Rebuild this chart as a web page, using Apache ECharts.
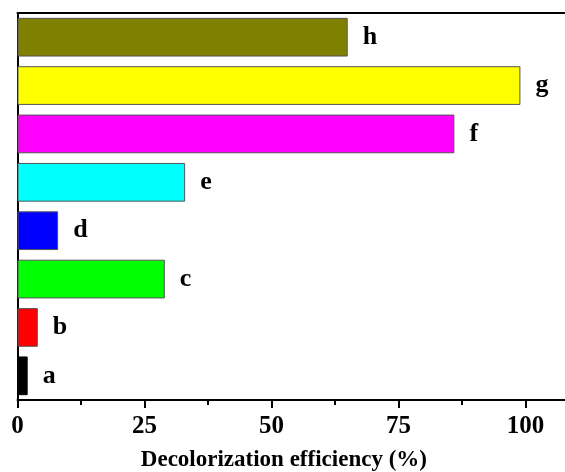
<!DOCTYPE html>
<html>
<head>
<meta charset="utf-8">
<script src="https://cdn.jsdelivr.net/npm/echarts@6/dist/echarts.min.js"></script>
<style>
  html, body { margin: 0; padding: 0; background: #fff; }
  #chart { width: 565px; height: 472px; }
</style>
</head>
<body>
<div id="chart"></div>
<script>
// Samples, bottom to top
const categories = ['a', 'b', 'c', 'd', 'e', 'f', 'g', 'h'];
// Decolorization efficiency (%) per sample
const efficiency = [2, 4, 29, 8, 33, 86, 99, 65];
const barColors = ['#000000', '#ff0000', '#00ff00', '#0000ff', '#00ffff', '#ff00ff', '#ffff00', '#808000'];
const xTicks = [0, 25, 50, 75, 100];

const serif = '"Liberation Serif", "Times New Roman", serif';
const chart = echarts.init(document.getElementById('chart'));

chart.setOption({
  animation: false,
  backgroundColor: '#ffffff',
  grid: {
    left: 17.5, top: 13, width: 110 * 5.08, height: 387,
    containLabel: false, outerBoundsMode: 'none'
  },
  xAxis: [{
    type: 'value',
    min: 0,
    max: 110,
    interval: 25,
    position: 'bottom',
    axisLine: { show: true, lineStyle: { color: '#000', width: 2 } },
    axisTick: { show: true, length: 8, lineStyle: { color: '#000', width: 2 } },
    minorTick: { show: true, splitNumber: 2, length: 5, lineStyle: { color: '#000', width: 2 } },
    splitLine: { show: false },
    axisLabel: {
      margin: 14,
      fontFamily: serif, fontWeight: 'bold', fontSize: 25, color: '#000',
      formatter: v => (xTicks.indexOf(v) >= 0 ? String(v) : '')
    },
    name: 'Decolorization efficiency (%)',
    nameLocation: 'middle',
    nameGap: 49,
    nameTextStyle: {
      fontFamily: serif, fontWeight: 'bold', fontSize: 23, color: '#000',
      padding: [0, 26, 0, 0]
    }
  }, {
    type: 'value',
    min: 0,
    max: 110,
    position: 'top',
    axisLine: { show: true, lineStyle: { color: '#000', width: 2 } },
    axisTick: { show: false },
    axisLabel: { show: false },
    splitLine: { show: false }
  }],
  yAxis: {
    type: 'category',
    data: categories,
    axisLine: { show: true, lineStyle: { color: '#000', width: 2 } },
    axisTick: { show: false },
    axisLabel: { show: false }
  },
  series: [{
    type: 'bar',
    xAxisIndex: 0,
    data: efficiency.map((v, i) => ({
      value: v,
      itemStyle: { color: barColors[i], borderColor: i === 0 ? '#000' : '#555', borderWidth: 1 }
    })),
    barCategoryGap: '20%',
    label: {
      show: true,
      position: 'right',
      distance: 15,
      formatter: p => categories[p.dataIndex],
      fontFamily: serif, fontWeight: 'bold', fontSize: 26, color: '#000'
    }
  }]
});
</script>
</body>
</html>
